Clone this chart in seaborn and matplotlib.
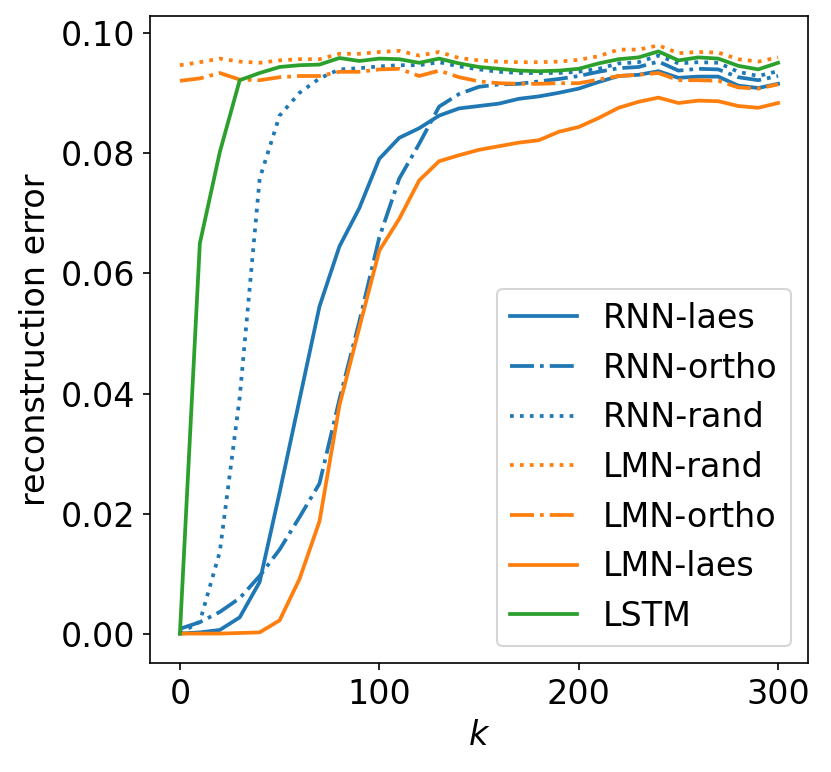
import matplotlib
matplotlib.use("Agg")
import matplotlib.pyplot as plt
import seaborn as sns
import numpy as np

k = list(range(0, 301, 10))

rnn_laes = [0.0, 0.0002, 0.0006, 0.0027, 0.0086, 0.0235, 0.039, 0.0545, 0.0645, 0.0709,
            0.0791, 0.0826, 0.0842, 0.0863, 0.0875, 0.0879, 0.0883, 0.0891, 0.0895, 0.0901,
            0.0908, 0.0919, 0.0929, 0.0931, 0.0937, 0.0926, 0.0928, 0.0928, 0.0913, 0.0909,
            0.0916]
rnn_ortho = [0.0008, 0.0019, 0.0036, 0.0059, 0.0096, 0.014, 0.0194, 0.025, 0.039, 0.052,
             0.066, 0.0758, 0.0816, 0.0878, 0.0899, 0.0911, 0.0915, 0.0916, 0.092, 0.0924,
             0.0929, 0.0936, 0.0942, 0.0944, 0.0953, 0.0938, 0.0941, 0.094, 0.0927, 0.0922,
             0.0929]
rnn_rand = [0.0, 0.002, 0.0136, 0.0394, 0.0758, 0.0863, 0.0901, 0.0925, 0.094, 0.0942,
            0.0945, 0.0947, 0.0947, 0.0952, 0.0945, 0.094, 0.0936, 0.0934, 0.0934, 0.0934,
            0.0936, 0.0941, 0.095, 0.0952, 0.0963, 0.095, 0.0952, 0.0951, 0.0936, 0.0929,
            0.0937]
lmn_rand = [0.0947, 0.0952, 0.0958, 0.0953, 0.0951, 0.0955, 0.0957, 0.0957, 0.0966, 0.0966,
            0.0969, 0.0971, 0.0963, 0.0969, 0.0959, 0.0955, 0.0953, 0.0952, 0.0952, 0.0953,
            0.0956, 0.0962, 0.0973, 0.0973, 0.098, 0.0967, 0.0969, 0.0968, 0.0957, 0.0953,
            0.096]
lmn_ortho = [0.0921, 0.0925, 0.0934, 0.0923, 0.0922, 0.0927, 0.0929, 0.0929, 0.0936, 0.0936,
             0.094, 0.0941, 0.0929, 0.0938, 0.0927, 0.092, 0.0917, 0.0916, 0.0916, 0.0917,
             0.0917, 0.0923, 0.0929, 0.0931, 0.0934, 0.0922, 0.0922, 0.0921, 0.091, 0.0908,
             0.0915]
lmn_laes = [0.0, 0.0, 0.0, 0.0001, 0.0002, 0.0022, 0.0091, 0.0187, 0.038, 0.051,
            0.0638, 0.0691, 0.0755, 0.0787, 0.0797, 0.0806, 0.0812, 0.0818, 0.0822, 0.0836,
            0.0844, 0.0859, 0.0876, 0.0886, 0.0893, 0.0884, 0.0888, 0.0887, 0.0879, 0.0876,
            0.0884]
lstm = [0.0, 0.065, 0.0802, 0.0922, 0.0934, 0.0944, 0.0947, 0.0948, 0.0959, 0.0954,
        0.0958, 0.0957, 0.0951, 0.0958, 0.095, 0.0944, 0.0941, 0.0938, 0.0937, 0.0938,
        0.0941, 0.095, 0.0957, 0.096, 0.097, 0.0955, 0.096, 0.0958, 0.0946, 0.094,
        0.0951]

series = [
    ("RNN-laes", rnn_laes, "#1f77b4", "-"),
    ("RNN-ortho", rnn_ortho, "#1f77b4", "-."),
    ("RNN-rand", rnn_rand, "#1f77b4", ":"),
    ("LMN-rand", lmn_rand, "#ff7f0e", ":"),
    ("LMN-ortho", lmn_ortho, "#ff7f0e", "-."),
    ("LMN-laes", lmn_laes, "#ff7f0e", "-"),
    ("LSTM", lstm, "#2ca02c", "-"),
]

FS = 16
plt.rcParams['font.family'] = ['DejaVu Sans']
plt.rcParams['font.size'] = FS

fig = plt.figure(figsize=(831 / 150, 772 / 150), dpi=150)
ax = fig.add_axes([0.1805, 0.1412, 0.9723 - 0.1805, 0.9793 - 0.1412])

for name, vals, col, ls in series:
    sns.lineplot(x=k, y=vals, ax=ax, color=col, linestyle=ls, linewidth=1.8, label=name)

ax.set_xlabel("$k$", fontsize=FS)
ax.set_ylabel("reconstruction error", fontsize=FS)
ax.tick_params(labelsize=FS)
ax.set_xticks([0, 100, 200, 300])
ax.set_yticks([0.0, 0.02, 0.04, 0.06, 0.08, 0.10])
ax.set_yticklabels(["0.00", "0.02", "0.04", "0.06", "0.08", "0.10"])
ax.legend(loc="lower right", fontsize=FS)

fig.savefig("out.png", dpi=150)
